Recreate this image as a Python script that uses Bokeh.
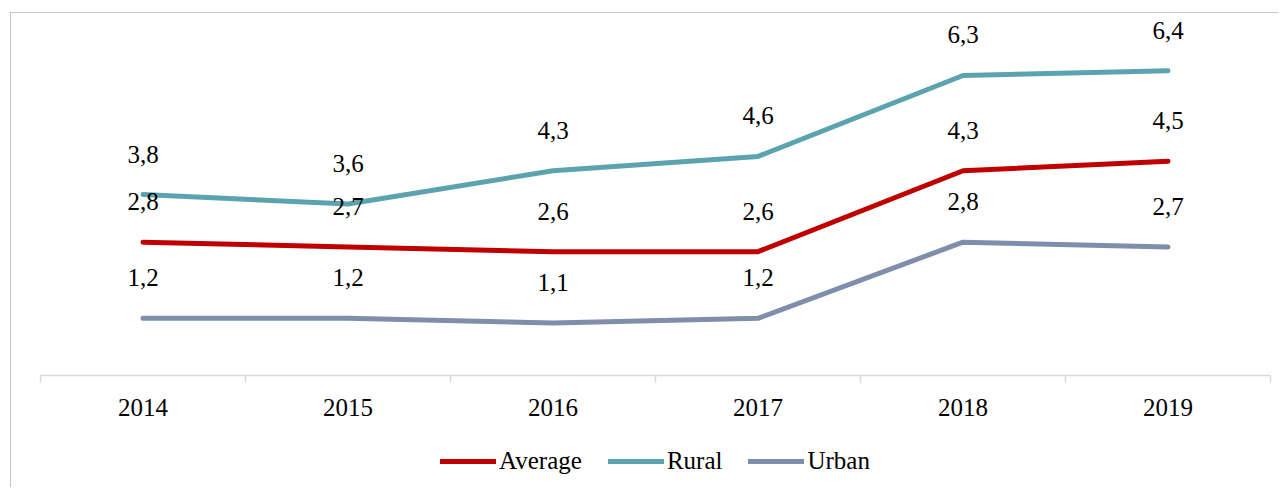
from bokeh.plotting import figure
from bokeh.layouts import column
from bokeh.models import ColumnDataSource, FixedTicker, Legend, LegendItem, Range1d, LabelSet
from bokeh.embed import file_html
from bokeh.resources import INLINE

years = ["2014", "2015", "2016", "2017", "2018", "2019"]
average = [2.8, 2.7, 2.6, 2.6, 4.3, 4.5]
rural = [3.8, 3.6, 4.3, 4.6, 6.3, 6.4]
urban = [1.2, 1.2, 1.1, 1.2, 2.8, 2.7]

series = [("Average", average, "#C00000"),
          ("Rural", rural, "#5BA4AF"),
          ("Urban", urban, "#7F8EAA")]

FONT = "'Liberation Serif'"
xs = list(range(len(years)))

p = figure(width=1267, height=422, output_backend="svg", toolbar_location=None,
           x_range=Range1d(-0.5, len(years) - 0.5), y_range=Range1d(0, 7.58),
           y_axis_location=None, min_border_left=29, min_border_right=8,
           min_border_top=1, min_border_bottom=60)
p.outline_line_color = None
p.xgrid.visible = False
p.ygrid.visible = False
p.background_fill_color = "white"
p.border_fill_color = "white"

# legend-only figure placed under the chart
lg = figure(width=1267, height=52, output_backend="svg", toolbar_location=None,
            x_range=Range1d(-0.5, len(years) - 0.5), y_range=Range1d(100, 101),
            x_axis_location=None, y_axis_location=None,
            min_border_left=29, min_border_right=8, min_border_top=0, min_border_bottom=0)
lg.outline_line_color = None
lg.xgrid.visible = False
lg.ygrid.visible = False
lg.border_fill_color = "white"

items = []
for name, vals, col in series:
    src = ColumnDataSource(dict(x=xs, y=vals,
                                lab=[f"{v:.1f}".replace(".", ",") for v in vals]))
    p.line("x", "y", source=src, line_color=col, line_width=5,
           line_cap="round", line_join="round")
    p.add_layout(LabelSet(x="x", y="y", text="lab", source=src, text_align="center",
                          text_baseline="alphabetic", y_offset=32, text_font=FONT,
                          text_font_size="25px", text_color="#000000"))
    r = lg.line("x", "y", source=src, line_color=col, line_width=5, line_cap="round")
    items.append(LegendItem(label=name, renderers=[r]))

ax = p.xaxis[0]
ax.ticker = FixedTicker(ticks=xs, minor_ticks=[i - 0.5 for i in range(len(years) + 1)])
ax.major_label_overrides = {i: y for i, y in enumerate(years)}
ax.axis_line_color = "#d9d9d9"
ax.axis_line_width = 1.5
ax.major_tick_line_color = None
ax.major_tick_out = 0
ax.major_tick_in = 0
ax.minor_tick_line_color = "#d9d9d9"
ax.minor_tick_line_width = 1.5
ax.minor_tick_out = 7
ax.minor_tick_in = 0
ax.major_label_standoff = 16
ax.major_label_text_font = FONT
ax.major_label_text_font_size = "25px"
ax.major_label_text_color = "#000000"

legend = Legend(items=items, orientation="horizontal", location="center",
                border_line_color=None, background_fill_alpha=0,
                padding=0, margin=0, spacing=26, label_standoff=3,
                glyph_width=56, glyph_height=30, label_height=30,
                label_text_font=FONT, label_text_font_size="25px",
                label_text_color="#000000")
lg.add_layout(legend, "center")

layout = column(p, lg, spacing=0,
                styles={"border-left": "1px solid #c6c6c6", "border-top": "1px solid #c6c6c6",
                        "margin-left": "10px", "margin-top": "12px"})

open("out.html", "w").write(file_html(layout, INLINE))
